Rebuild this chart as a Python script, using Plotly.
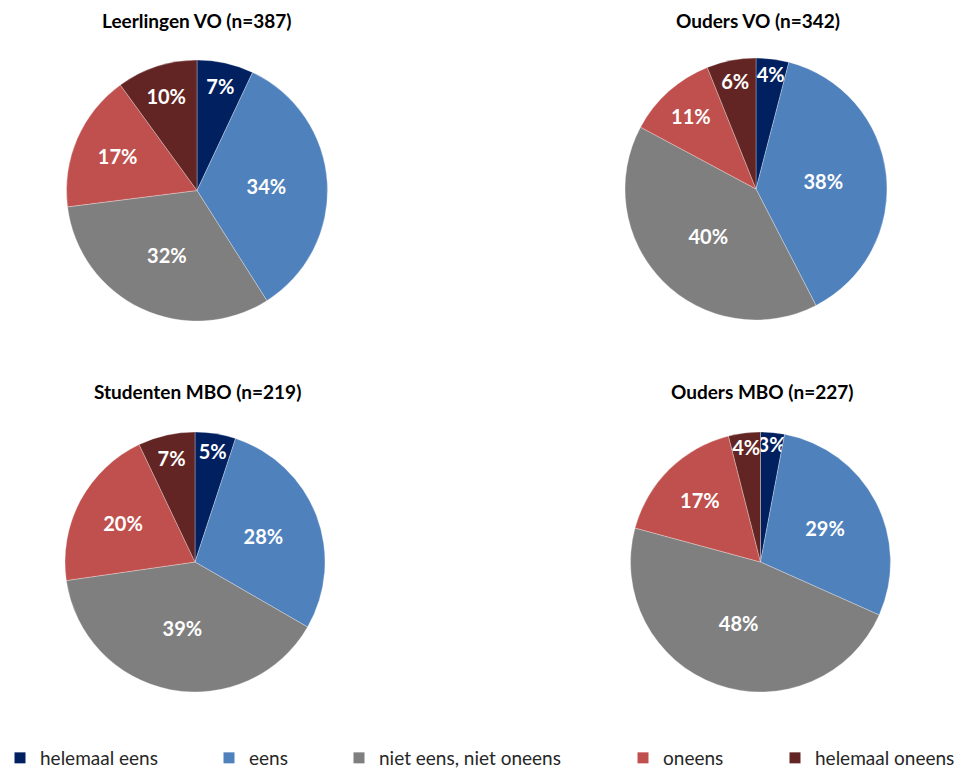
import plotly.graph_objects as go

categories = ["helemaal eens", "eens", "niet eens, niet oneens", "oneens", "helemaal oneens"]
colors = ["#002060", "#4F81BD", "#7F7F7F", "#C0504D", "#632523"]

titles = ["Leerlingen VO (n=387)", "Ouders VO (n=342)", "Studenten MBO (n=219)", "Ouders MBO (n=227)"]
leerlingen_vo = [7, 34, 32, 17, 10]
ouders_vo = [4, 38, 40, 11, 6]
studenten_mbo = [5, 28, 39, 20, 7]
ouders_mbo = [3, 29, 48, 17, 4]

# figure is a bit taller than the window so the legend can sit low; the extra strip is hidden
W, H = 963, 777
FONT = "Lato, 'Open Sans', sans-serif"

# pie boxes in pixels from the top-left: (left, right, top, bottom)
boxes = [(66, 328, 60, 321), (625, 887, 58, 320), (64, 326, 432, 692), (630, 891, 432, 692)]
title_pos = [(197, 20), (758, 20), (197, 392), (762, 392)]

fig = go.Figure()

for vals, box in zip([leerlingen_vo, ouders_vo, studenten_mbo, ouders_mbo], boxes):
    l, r, t, b = box
    fig.add_trace(go.Pie(
        labels=categories,
        values=vals,
        sort=False,
        direction="clockwise",
        rotation=0,
        marker=dict(colors=colors, line=dict(color="white", width=0.3)),
        texttemplate="%{value}%",
        textposition="inside",
        insidetextorientation="horizontal",
        textfont=dict(family=FONT, size=20, color="white", weight="bold"),
        hovertemplate="%{label}: %{value}%<extra></extra>",
        showlegend=False,
        domain=dict(x=[l / W, r / W], y=[1 - b / H, 1 - t / H]),
    ))

# legend entries, one legend each so they sit where the original puts them
text_starts = [29, 246, 376, 660, 812]
for i, (cat, col) in enumerate(zip(categories, colors)):
    name = "legend" if i == 0 else f"legend{i + 1}"
    fig.add_trace(go.Scatter(
        x=[None], y=[None], mode="markers", name=cat,
        marker=dict(symbol="square", size=11, color=col),
        legend=name, showlegend=True, hoverinfo="skip",
    ))
    fig.update_layout(**{name: dict(
        x=max(text_starts[i] - 37, 0) / W, y=0,
        xanchor="left", yanchor="bottom",
        orientation="h", bgcolor="rgba(0,0,0,0)",
        font=dict(family=FONT, size=19, color="#262626"),
        itemwidth=30,
    )})

for txt, (x, y) in zip(titles, title_pos):
    fig.add_annotation(
        text=f"<b>{txt}</b>", x=x / W, y=1 - y / H, xref="paper", yref="paper",
        showarrow=False, xanchor="center", yanchor="middle",
        font=dict(family=FONT, size=19, color="black"),
    )

fig.update_layout(
    width=W, height=H,
    margin=dict(l=0, r=0, t=0, b=0),
    paper_bgcolor="white", plot_bgcolor="white",
    xaxis=dict(visible=False), yaxis=dict(visible=False),
    uniformtext=dict(minsize=20, mode="show"),
)

# no body margin, no scrollbars
fig.write_html(
    "out.html",
    config={"displayModeBar": False},
    post_script="document.body.style.margin='0';document.body.style.overflow='hidden';",
)
